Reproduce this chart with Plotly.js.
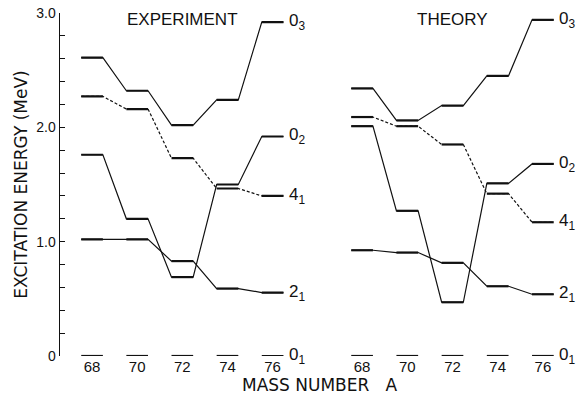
<!DOCTYPE html>
<html>
<head>
<meta charset="utf-8">
<script src="https://cdn.plot.ly/plotly-3.0.1.min.js"></script>
<style>html,body{margin:0;padding:0;background:#fff;}#chart{width:578px;height:402px;}</style>
</head>
<body>
<div id="chart"></div>
<script>
// Mass numbers
var massNumbers = [68, 70, 72, 74, 76];

// Experiment levels (MeV)
var exp_O3 = [2.61, 2.32, 2.02, 2.24, 2.92];
var exp_4_1 = [2.27, 2.16, 1.73, 1.465, 1.40];
var exp_O2 = [1.76, 1.20, 0.69, 1.50, 1.92];
var exp_2_1 = [1.02, 1.02, 0.83, 0.59, 0.555];
var exp_O1 = [0, 0, 0, 0, 0];

// Theory levels (MeV)
var th_O3 = [2.34, 2.06, 2.19, 2.45, 2.94];
var th_4_1 = [2.09, 2.01, 1.85, 1.42, 1.17];
var th_O2 = [2.01, 1.27, 0.47, 1.51, 1.68];
var th_2_1 = [0.925, 0.905, 0.815, 0.61, 0.54];
var th_O1 = [0, 0, 0, 0, 0];

var levelLabels = ["0<sub>3</sub>", "4<sub>1</sub>", "0<sub>2</sub>", "2<sub>1</sub>", "0<sub>1</sub>"];
var yTickVals = [0, 1, 2, 3];
var yTickText = ["0", "1.0", "2.0", "3.0"];

var HW = 0.48; // half width of level bar in mass units
var traces = [];
var annotations = [];

function levelTraces(vals, xa, ya, dashed, connect, label) {
  if (connect) {
    var cx = [], cy = [];
    for (var i = 0; i < massNumbers.length; i++) {
      cx.push(massNumbers[i] - HW, massNumbers[i] + HW);
      cy.push(vals[i], vals[i]);
    }
    traces.push({x: cx, y: cy, xaxis: xa, yaxis: ya, mode: 'lines', type: 'scatter',
      line: {color: '#111', width: 1.2, dash: dashed ? '3px,2px' : 'solid'}, hoverinfo: 'skip', showlegend: false});
  }
  var bx = [], by = [];
  for (var j = 0; j < massNumbers.length; j++) {
    bx.push(massNumbers[j] - HW, massNumbers[j] + HW, null);
    by.push(vals[j], vals[j], null);
  }
  traces.push({x: bx, y: by, xaxis: xa, yaxis: ya, mode: 'lines', type: 'scatter',
    line: {color: '#111', width: 2.2}, hoverinfo: 'skip', showlegend: false});
  annotations.push({xref: xa, yref: ya, x: massNumbers[massNumbers.length - 1] + HW + 0.15,
    y: vals[vals.length - 1], text: label, showarrow: false, xanchor: 'left', yanchor: 'middle',
    font: {size: 17, color: '#111'}});
}

levelTraces(exp_O3, 'x', 'y', false, true, levelLabels[0]);
levelTraces(exp_4_1, 'x', 'y', true, true, levelLabels[1]);
levelTraces(exp_O2, 'x', 'y', false, true, levelLabels[2]);
levelTraces(exp_2_1, 'x', 'y', false, true, levelLabels[3]);
levelTraces(exp_O1, 'x', 'y', false, false, levelLabels[4]);

levelTraces(th_O3, 'x2', 'y', false, true, levelLabels[0]);
levelTraces(th_4_1, 'x2', 'y', true, true, levelLabels[1]);
levelTraces(th_O2, 'x2', 'y', false, true, levelLabels[2]);
levelTraces(th_2_1, 'x2', 'y', false, true, levelLabels[3]);
levelTraces(th_O1, 'x2', 'y', false, false, levelLabels[4]);

annotations.push({xref: 'x', yref: 'y', x: 72, y: 2.94, text: 'EXPERIMENT', showarrow: false,
  font: {size: 17, color: '#111'}, xanchor: 'center', yanchor: 'middle'});
annotations.push({xref: 'x2', yref: 'y', x: 72, y: 2.94, text: 'THEORY', showarrow: false,
  font: {size: 17, color: '#111'}, xanchor: 'center', yanchor: 'middle'});
annotations.push({xref: 'paper', yref: 'paper', x: 0.51, y: -0.085, text: 'MASS NUMBER&nbsp;&nbsp;&nbsp;A',
  showarrow: false, font: {size: 17, color: '#111', family: 'DejaVu Sans, sans-serif'}, xanchor: 'center', yanchor: 'middle'});

var minorVals = [];
for (var k = 0; k <= 15; k++) minorVals.push(k / 5);

var xRange = [66.58, 77.2];
var layout = {
  width: 578, height: 402,
  margin: {l: 60, r: 8, t: 13, b: 46},
  paper_bgcolor: '#fff', plot_bgcolor: '#fff',
  font: {family: 'Liberation Sans, Arial, sans-serif', color: '#111', size: 14},
  showlegend: false,
  xaxis: {domain: [0, 0.47], range: xRange, tickvals: massNumbers, showline: false, showgrid: false,
    zeroline: false, ticks: '', tickfont: {size: 15}, fixedrange: true},
  xaxis2: {domain: [0.5294, 1], range: xRange, tickvals: massNumbers, showline: false, showgrid: false,
    zeroline: false, ticks: '', tickfont: {size: 15}, anchor: 'y', fixedrange: true},
  yaxis: {range: [0, 3], tickvals: yTickVals, ticktext: yTickText, showline: true, linecolor: '#111',
    linewidth: 1.5, ticks: 'inside', ticklen: 5, tickcolor: '#111', showgrid: false, zeroline: false,
    minor: {tickvals: minorVals, ticks: 'inside', ticklen: 5, tickcolor: '#111'},
    tickfont: {size: 14},
    title: {text: 'EXCITATION ENERGY (MeV)', font: {size: 17, color: '#111', family: 'DejaVu Sans, sans-serif'}, standoff: 4}},
  annotations: annotations
};

Plotly.newPlot('chart', traces, layout, {staticPlot: true});
</script>
</body>
</html>
